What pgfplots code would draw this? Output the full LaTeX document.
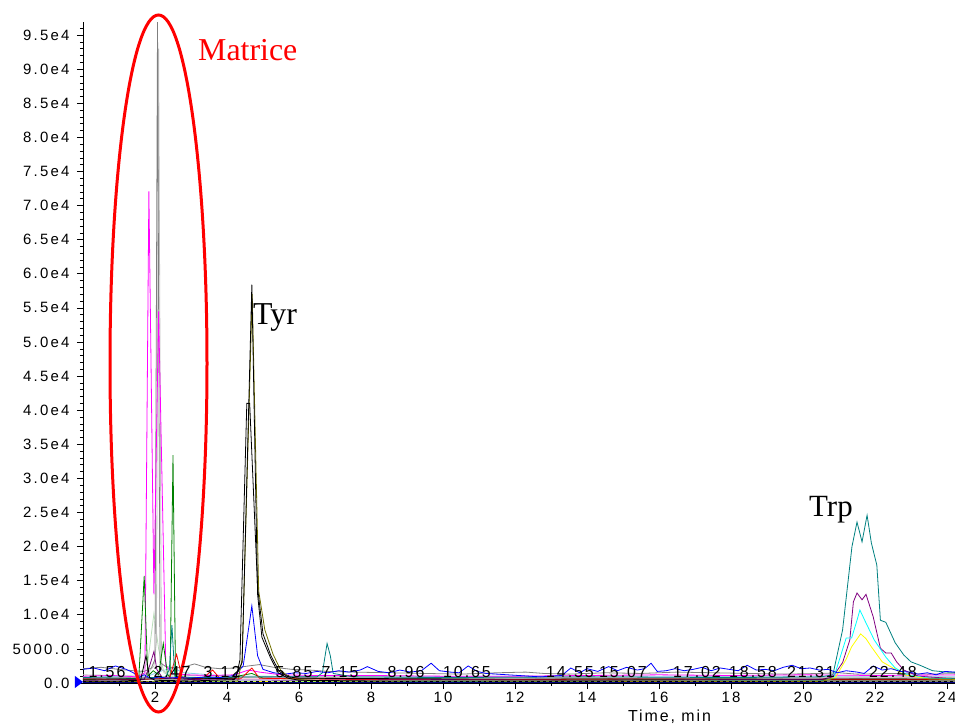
\documentclass[border=0pt]{standalone}
\usepackage{pgfplots}
\pgfplotsset{compat=1.18}
\usepackage{fontspec}
\setmainfont{Liberation Sans}
\newfontfamily\seriffont{Liberation Serif}
\newfontfamily\spacedfont[LetterSpace=15]{Liberation Sans}
\newfontfamily\labelfont[LetterSpace=12]{Liberation Sans}
\definecolor{cgray}{HTML}{7F7F7F}
\definecolor{csilver}{HTML}{C0C0C0}
\definecolor{cpalegreen}{HTML}{B9DDB9}
\definecolor{cmagenta}{HTML}{FF00FF}
\definecolor{cpurple}{HTML}{800080}
\definecolor{cgreen}{HTML}{008000}
\definecolor{cteal}{HTML}{008080}
\definecolor{colive}{HTML}{707000}
\definecolor{cblue}{HTML}{0000FF}
\definecolor{cred}{HTML}{FF0000}
\definecolor{ccyan}{HTML}{00FFFF}
\definecolor{cyellow}{HTML}{FFFF00}
\definecolor{clightblue}{HTML}{87CEEB}
\definecolor{cnavy}{HTML}{000080}
\definecolor{cpink}{HTML}{FF80C0}
\begin{document}
\begin{tikzpicture}
\begin{axis}[
  at={(0,0)}, anchor=south west, scale only axis,
  width=882bp, height=661bp,
  xmin=0, xmax=24.5, ymin=0, ymax=96920,
  axis lines*=left,
  axis line style={black, line width=0.8bp},
  tick align=outside,
  major tick length=6bp, minor tick length=3bp,
  tick style={black, line width=0.6bp},
  xtick={2,4,...,24},
  minor xtick={1,3,...,23},
  ytick={0,5000,...,95000},
  minor ytick={0,1000,...,96000},
  yticklabels={0.0,5000.0,1.0e4,1.5e4,2.0e4,2.5e4,3.0e4,3.5e4,4.0e4,4.5e4,5.0e4,5.5e4,6.0e4,6.5e4,7.0e4,7.5e4,8.0e4,8.5e4,9.0e4,9.5e4},
  scaled y ticks=false,
  /pgf/number format/assume math mode=true,
  tick label style={font=\spacedfont\fontsize{15}{18}\selectfont},
  yticklabel style={xshift=-4bp},
  every axis plot/.append style={line width=0.8bp, mark=none},
  xlabel={\addfontfeature{LetterSpace=12}Time, min},
  xlabel style={font=\fontsize{16}{19}\selectfont, at={(axis description cs:0.665,0)}, anchor=base, yshift=-38bp},
]
% pale green hump
\addplot[cpalegreen] coordinates {(0,800)(1.5,800)(1.8,3000)(1.97,10200)(2.1,5000)(2.25,1500)(2.5,900)(4,800)(8,700)(12,800)(16,700)(20,800)(24.5,700)};
% light blue
\addplot[clightblue] coordinates {(0,900)(1.8,1000)(2.2,1800)(2.5,2200)(2.8,1500)(3.3,1300)(4,1000)(8,900)(12,1000)(16,1000)(20,900)(24.5,900)};
% pink
\addplot[cpink] coordinates {(0,700)(2,800)(4,700)(6,800)(9,700)(12,800)(15,700)(18,800)(21,700)(24.5,800)};
% silver
\addplot[csilver] coordinates {(0,1200)(1.0,1100)(1.6,1000)(1.8,1500)(1.97,2500)(2.04,6000)(2.1,93000)(2.18,2000)(2.4,1200)(3.0,1100)(4.0,1000)(5,1000)(6,900)(8,900)(10,800)(12,800)(14,900)(16,800)(18,900)(20,800)(22,900)(24.5,800)};
% gray spike
\addplot[cgray] coordinates {(0,2100)(0.5,2300)(1.0,2000)(1.4,1800)(1.7,1700)(1.9,2200)(2.0,3500)(2.07,96900)(2.14,3000)(2.3,2400)(2.6,2200)(2.9,2500)(3.1,2800)(3.4,2300)(3.8,2100)(4.2,2200)(4.6,2500)(4.9,2700)(5.3,2300)(5.8,2000)(6.3,1900)(6.8,1700)(7.5,1600)(8.5,1500)(9.5,1400)(10.5,1300)(11.5,1500)(12.3,1600)(12.8,1400)(13.5,1300)(14.5,1500)(15.5,1400)(16.5,1600)(17.5,1500)(18.5,1400)(19.5,1300)(20.5,1400)(21.0,1500)(21.5,1300)(22.5,1400)(23.5,1300)(24.5,1400)};
% magenta
\addplot[cmagenta] coordinates {(0,1000)(0.8,1100)(1.5,900)(1.72,1500)(1.83,72100)(1.97,13000)(2.1,54500)(2.3,2500)(2.5,1400)(2.9,1200)(3.5,1100)(4.2,1200)(4.6,1900)(4.9,1600)(5.5,1200)(6.5,1100)(8,1100)(10,1000)(12,1000)(14,1100)(16,1200)(18,1100)(20,1200)(22,1100)(24.5,1200)};
% dark green
\addplot[cgreen] coordinates {(0,500)(1.0,600)(1.55,700)(1.7,15700)(1.8,1000)(1.95,1800)(2.1,1200)(2.23,5800)(2.35,1200)(2.42,800)(2.5,33400)(2.57,900)(3,600)(4,700)(4.69,1400)(5,700)(6,600)(7,700)(8,600)(10,600)(12,500)(14,600)(16,500)(18,600)(20,500)(22,600)(24.5,500)};
% red
\addplot[cred] coordinates {(0,600)(1.5,500)(2.4,700)(2.6,4200)(2.75,800)(3.3,600)(3.6,1900)(3.8,700)(4.4,700)(4.69,2200)(4.9,700)(6,600)(8,500)(12,500)(16,600)(20,500)(24.5,500)};
% teal
\addplot[cteal] coordinates {(0,800)(1.5,700)(2.3,900)(2.4,2000)(2.47,8500)(2.55,1000)(3,800)(5,900)(6.5,900)(6.65,1500)(6.78,5800)(6.87,4000)(6.95,1400)(7.5,900)(10,800)(14,900)(18,800)(20.5,900)(20.83,1200)(21.1,7800)(21.36,20000)(21.5,23600)(21.64,20700)(21.78,24600)(21.9,20500)(22.05,17300)(22.15,9200)(22.3,8900)(22.56,5900)(22.8,4100)(23.0,3100)(23.25,2600)(23.6,1800)(24,1600)(24.5,1500)};
% purple
\addplot[cpurple] coordinates {(0,400)(1.7,500)(1.85,2500)(1.97,4600)(2.05,2000)(2.2,800)(3,500)(6,400)(10,500)(14,400)(18,500)(20.5,500)(20.83,900)(21.1,3000)(21.3,6300)(21.4,11900)(21.5,13200)(21.64,12200)(21.75,13000)(21.95,9700)(22.15,5100)(22.3,4400)(22.45,4400)(22.6,3100)(22.8,1900)(23.2,1000)(24,700)(24.5,600)};
% cyan
\addplot[ccyan] coordinates {(0,200)(5,250)(10,200)(15,250)(20.5,300)(20.85,700)(21.2,6600)(21.35,6600)(21.5,9200)(21.58,10700)(21.75,8800)(21.98,6300)(22.3,3800)(22.56,2200)(22.9,1200)(23.5,700)(24.5,600)};
% yellow
\addplot[cyellow] coordinates {(0,150)(5,200)(10,150)(15,200)(20.5,200)(20.9,800)(21.2,3500)(21.35,5300)(21.6,7200)(21.75,6500)(21.9,5300)(22.2,3100)(22.5,2200)(22.8,1200)(23.5,600)(24.5,500)};
% blue noisy baseline with Tyr peak
\addplot[cblue] coordinates {(0,2000)(0.3,2200)(0.6,1800)(0.9,2500)(1.2,2000)(1.4,1500)(1.55,800)(1.7,1200)(1.9,600)(2.1,900)(2.3,700)(2.6,800)(3.0,700)(3.4,900)(3.8,800)(4.2,1100)(4.45,2500)(4.69,11300)(4.85,4000)(5.0,2000)(5.3,1500)(5.6,1300)(5.9,1500)(6.2,1400)(6.5,1700)(6.8,1500)(7.1,1800)(7.4,1600)(7.7,1900)(7.9,2400)(8.2,1700)(8.5,1500)(8.8,1900)(9.1,1600)(9.4,1800)(9.67,2900)(9.9,1800)(10.2,1600)(10.45,1500)(10.7,2500)(10.95,1700)(11.2,1400)(11.5,1300)(11.8,1200)(12.1,1100)(12.4,1000)(12.7,900)(13.0,1000)(13.3,1100)(13.55,2200)(13.8,1500)(14.0,2100)(14.3,1700)(14.6,2400)(14.85,1800)(15.1,2300)(15.4,1900)(15.6,2100)(15.78,2900)(15.95,1700)(16.2,1800)(16.45,2100)(16.7,1800)(16.95,2000)(17.2,2300)(17.45,1800)(17.7,2200)(17.95,2000)(18.2,1800)(18.45,2600)(18.7,1900)(18.95,2000)(19.2,1800)(19.45,2300)(19.7,2600)(19.95,2100)(20.2,2200)(20.45,1900)(20.7,2000)(20.95,1500)(21.2,1800)(21.5,1600)(21.7,1400)(21.95,2500)(22.2,1900)(22.45,2100)(22.7,1700)(22.95,1600)(23.2,1300)(23.45,1500)(23.7,1200)(23.95,1700)(24.2,1600)(24.5,1800)};
% olive
\addplot[colive] coordinates {(0,200)(4.3,300)(4.42,3500)(4.7,57000)(4.88,13500)(5.05,7800)(5.28,4200)(5.5,1800)(5.8,600)(6.5,300)(12,300)(18,300)(24.5,300)};
% black flat top
\addplot[black] coordinates {(0,600)(3,600)(4.25,700)(4.36,3400)(4.55,41000)(4.63,41000)(4.85,14000)(5.0,7200)(5.22,4000)(5.45,1700)(5.7,900)(6,700)(10,600)(15,600)(20,600)(24.5,600)};
% black main Tyr
\addplot[black] coordinates {(0,300)(1,300)(1.6,400)(1.75,4000)(1.85,800)(2.0,400)(3,300)(4.2,500)(4.42,3000)(4.69,58400)(4.85,13000)(4.97,6700)(5.2,3800)(5.42,1500)(5.7,700)(6,400)(8,300)(12,300)(16,300)(20,300)(24.5,300)};
% dashed black near zero
\addplot[black, dashed, line width=1.2bp] coordinates {(0,250)(6,250)(12,250)(18,250)(24.5,250)};
% navy thick near zero
\addplot[cnavy, line width=1.5bp] coordinates {(0,80)(6,80)(12,80)(18,80)(24.5,80)};
\end{axis}
% annotations
\fill[cblue] (-8bp,7bp) -- (0bp,1bp) -- (-8bp,-5bp) -- cycle;
\draw[cred, line width=3bp] (75.5bp,319.5bp) ellipse [x radius=48.5bp, y radius=348.5bp];
\node[anchor=base west, inner sep=0, text=cred, font=\seriffont\fontsize{32}{36}\selectfont] at (115bp,622bp) {Matrice};
\node[anchor=base west, inner sep=0, font=\seriffont\fontsize{32}{36}\selectfont] at (170bp,358bp) {Tyr};
\node[anchor=base west, inner sep=0, font=\seriffont\fontsize{31}{35}\selectfont] at (726bp,166bp) {Trp};
\begin{scope}[every node/.style={inner sep=0, font=\labelfont\fontsize{16}{19}\selectfont}]
\node at (24bp,11bp) {1.56};
\node at (89bp,11bp) {2.47};
\node at (139bp,11bp) {3.12};
\node at (211bp,11bp) {5.85};
\node at (257bp,11bp) {7.15};
\node at (323bp,11bp) {8.96};
\node at (384bp,11bp) {10.65};
\node at (487bp,11bp) {14.55};
\node at (540bp,11bp) {15.07};
\node at (614bp,11bp) {17.02};
\node at (670bp,11bp) {18.58};
\node at (728bp,11bp) {21.31};
\node at (810bp,11bp) {22.48};
\end{scope}
\pgfresetboundingbox
\path[use as bounding box] (-83bp,-41bp) rectangle (872bp,683bp);
\end{tikzpicture}
\end{document}
